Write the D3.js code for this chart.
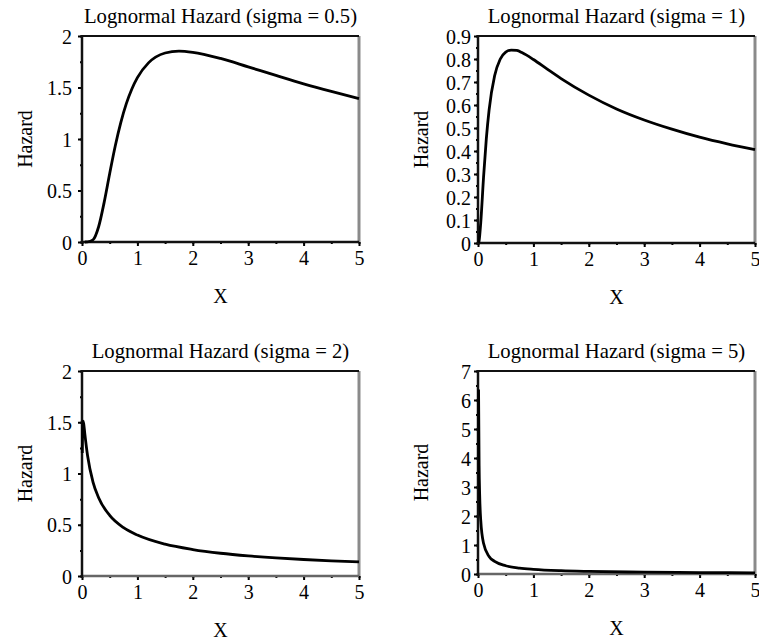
<!DOCTYPE html>
<html>
<head>
<meta charset="utf-8">
<script src="https://cdn.jsdelivr.net/npm/d3@7"></script>
<style>
  body { margin: 0; background: #fff; }
  svg { display: block; }
  text { font-family: "Liberation Serif", "Times New Roman", serif; fill: #000; }
  .domain { display: none; }
</style>
</head>
<body>
<svg id="chart" width="759" height="641"></svg>
<script>
// values
var titles = ["Lognormal Hazard (sigma = 0.5)", "Lognormal Hazard (sigma = 1)",
              "Lognormal Hazard (sigma = 2)", "Lognormal Hazard (sigma = 5)"];

var x05 = [0.05, 0.1, 0.2, 0.3, 0.4, 0.5, 0.6, 0.7, 0.8, 0.9, 1, 1.2, 1.5, 1.75, 2, 2.5, 3, 3.5, 4, 4.5, 5];
var h05 = [0, 0.001, 0.022, 0.148, 0.385, 0.665, 0.932, 1.159, 1.343, 1.486, 1.596, 1.739, 1.835, 1.854, 1.842, 1.782, 1.70, 1.617, 1.536, 1.462, 1.393];

var x1 = [0.01, 0.02, 0.05, 0.1, 0.15, 0.2, 0.3, 0.4, 0.5, 0.6, 0.7, 0.8, 1, 1.25, 1.5, 2, 2.5, 3, 3.5, 4, 4.5, 5];
var h1 = [0.001, 0.01, 0.09, 0.285, 0.453, 0.578, 0.727, 0.799, 0.830, 0.839, 0.837, 0.827, 0.798, 0.756, 0.715, 0.643, 0.583, 0.535, 0.495, 0.460, 0.431, 0.406];

var x2 = [0.005, 0.01, 0.02, 0.03, 0.05, 0.1, 0.2, 0.3, 0.5, 0.75, 1, 1.5, 2, 2.5, 3, 3.5, 4, 4.5, 5];
var h2 = [1.2, 1.424, 1.51, 1.489, 1.392, 1.175, 0.914, 0.764, 0.591, 0.472, 0.399, 0.310, 0.258, 0.222, 0.196, 0.176, 0.161, 0.148, 0.137];

var x5 = [0.01, 0.02, 0.03, 0.05, 0.1, 0.2, 0.3, 0.5, 0.75, 1, 1.5, 2, 3, 4, 5];
var h5 = [6.36, 3.75, 2.74, 1.838, 1.059, 0.605, 0.434, 0.285, 0.203, 0.160, 0.113, 0.089, 0.063, 0.049, 0.041];

var yMax = [2, 0.9, 2, 7];
var yMajor = [d3.range(0, 2.01, 0.5), d3.range(0, 0.91, 0.1), d3.range(0, 2.01, 0.5), d3.range(0, 7.01, 1)];
var yMinor = [d3.range(0, 2.01, 0.25), d3.range(0, 0.91, 0.05), d3.range(0, 2.01, 0.25), d3.range(0, 7.01, 0.5)];
var xMajor = [0, 1, 2, 3, 4, 5];
var xMinor = d3.range(0, 5.01, 0.5);

var xsAll = [x05, x1, x2, x5], hsAll = [h05, h1, h2, h5];

// frame boxes: left, right, top, bottom
var boxes = [[82, 359, 36, 242], [478, 755, 36, 243], [82, 359, 371, 576], [478, 755, 371, 574]];

var svg = d3.select("#chart");

boxes.forEach(function(b, i) {
  var g = svg.append("g");
  var x = d3.scaleLinear().domain([0, 5]).range([b[0], b[1]]);
  var y = d3.scaleLinear().domain([0, yMax[i]]).range([b[3], b[2]]);
  var fmt = function(d) { return +d.toFixed(1) + ""; };

  // minor ticks
  g.append("g").attr("transform", "translate(" + b[0] + ",0)")
    .call(d3.axisLeft(y).tickValues(yMinor[i]).tickSize(2).tickFormat(""))
    .selectAll("line").attr("stroke-width", 2);
  g.append("g").attr("transform", "translate(0," + b[3] + ")")
    .call(d3.axisBottom(x).tickValues(xMinor).tickSize(2).tickFormat(""))
    .selectAll("line").attr("stroke-width", 2);

  // major ticks
  var ya = g.append("g").attr("transform", "translate(" + b[0] + ",0)")
    .call(d3.axisLeft(y).tickValues(yMajor[i]).tickSize(4).tickPadding(i % 2 ? 3 : 6).tickFormat(fmt));
  ya.selectAll("line").attr("stroke-width", 2);
  ya.selectAll("text").style("font-size", "20px").attr("dy", "0.35em");
  var xa = g.append("g").attr("transform", "translate(0," + b[3] + ")")
    .call(d3.axisBottom(x).tickValues(xMajor).tickSize(4).tickPadding(5).tickFormat(d3.format("d")));
  xa.selectAll("line").attr("stroke-width", 2);
  xa.selectAll("text").style("font-size", "20px");

  // frame
  g.append("line").attr("x1", b[1]).attr("x2", b[1]).attr("y1", b[2]).attr("y2", b[3])
    .attr("stroke", "#8a8a8a").attr("stroke-width", 3);
  g.append("line").attr("x1", b[0]).attr("x2", b[1]).attr("y1", b[2]).attr("y2", b[2])
    .attr("stroke", "#111").attr("stroke-width", 2);
  g.append("line").attr("x1", b[0]).attr("x2", b[1]).attr("y1", b[3]).attr("y2", b[3])
    .attr("stroke", i < 2 ? "#111" : "#666").attr("stroke-width", 2.5);
  g.append("line").attr("x1", b[0]).attr("x2", b[0]).attr("y1", b[2] - 1).attr("y2", b[3] + 1)
    .attr("stroke", "#111").attr("stroke-width", 2.5);

  // curve
  var pts = xsAll[i].map(function(v, k) { return [v, hsAll[i][k]]; });
  g.append("path").datum(pts)
    .attr("fill", "none").attr("stroke", "#000").attr("stroke-width", 2.8)
    .attr("d", d3.line().x(function(d) { return x(d[0]); }).y(function(d) { return y(d[1]); })
      .curve(d3.curveMonotoneX));

  // labels
  g.append("text").attr("x", (b[0] + b[1]) / 2).attr("y", b[2] - 13)
    .attr("text-anchor", "middle").style("font-size", "20.7px").text(titles[i]);
  g.append("text").attr("x", (b[0] + b[1]) / 2).attr("y", b[3] + 61)
    .attr("text-anchor", "middle").style("font-size", "20px").text("X");
  var lx = b[0] - 50;
  g.append("text").attr("transform", "translate(" + lx + "," + ((b[2] + b[3]) / 2) + ") rotate(-90)")
    .attr("text-anchor", "middle").style("font-size", "20px").text("Hazard");
});
</script>
</body>
</html>
